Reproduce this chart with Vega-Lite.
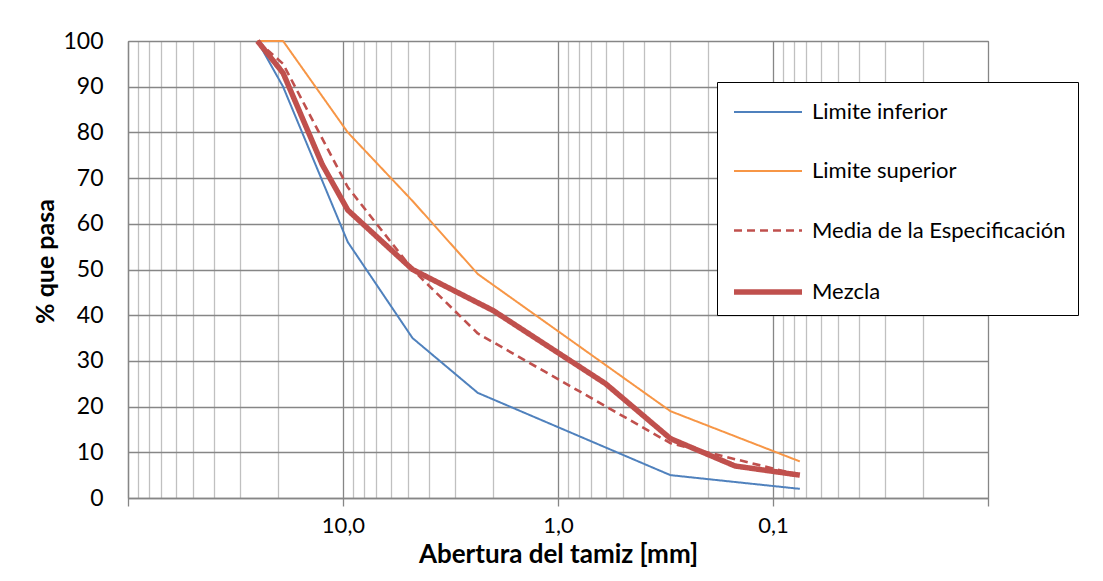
{
  "$schema": "https://vega.github.io/schema/vega-lite/v6.json",
  "width": 860,
  "height": 457,
  "autosize": {"type": "none"},
  "padding": {"left": 128, "top": 41, "right": 115, "bottom": 83},
  "background": "white",
  "config": {
    "font": "Lato",
    "view": {"stroke": "#868686", "strokeWidth": 1},
    "legend": {
      "symbolType": "M-2,0H2",
      "symbolSize": 1156,
      "symbolOffset": 19,
      "labelOffset": 24,
      "rowPadding": 30,
      "padding": 12,
      "strokeColor": "black",
      "fillColor": "white",
      "labelFont": "Lato",
      "labelFontSize": 22,
      "labelColor": "black",
      "labelLimit": 500
    }
  },
  "data": {
    "values": [
      {"tamiz": 25, "pasa": 100, "serie": "Limite inferior"},
      {"tamiz": 19, "pasa": 90, "serie": "Limite inferior"},
      {"tamiz": 9.5, "pasa": 56, "serie": "Limite inferior"},
      {"tamiz": 4.75, "pasa": 35, "serie": "Limite inferior"},
      {"tamiz": 2.36, "pasa": 23, "serie": "Limite inferior"},
      {"tamiz": 0.3, "pasa": 5, "serie": "Limite inferior"},
      {"tamiz": 0.075, "pasa": 2, "serie": "Limite inferior"},
      {"tamiz": 25, "pasa": 100, "serie": "Limite superior"},
      {"tamiz": 19, "pasa": 100, "serie": "Limite superior"},
      {"tamiz": 9.5, "pasa": 80, "serie": "Limite superior"},
      {"tamiz": 4.75, "pasa": 65, "serie": "Limite superior"},
      {"tamiz": 2.36, "pasa": 49, "serie": "Limite superior"},
      {"tamiz": 0.3, "pasa": 19, "serie": "Limite superior"},
      {"tamiz": 0.075, "pasa": 8, "serie": "Limite superior"},
      {"tamiz": 25, "pasa": 100, "serie": "Media de la Especificación"},
      {"tamiz": 19, "pasa": 95, "serie": "Media de la Especificación"},
      {"tamiz": 9.5, "pasa": 68, "serie": "Media de la Especificación"},
      {"tamiz": 4.75, "pasa": 50, "serie": "Media de la Especificación"},
      {"tamiz": 2.36, "pasa": 36, "serie": "Media de la Especificación"},
      {"tamiz": 0.3, "pasa": 12, "serie": "Media de la Especificación"},
      {"tamiz": 0.075, "pasa": 5, "serie": "Media de la Especificación"},
      {"tamiz": 25, "pasa": 100, "serie": "Mezcla"},
      {"tamiz": 19, "pasa": 93, "serie": "Mezcla"},
      {"tamiz": 12.5, "pasa": 73, "serie": "Mezcla"},
      {"tamiz": 9.5, "pasa": 63, "serie": "Mezcla"},
      {"tamiz": 4.75, "pasa": 50, "serie": "Mezcla"},
      {"tamiz": 2.0, "pasa": 41, "serie": "Mezcla"},
      {"tamiz": 0.6, "pasa": 25, "serie": "Mezcla"},
      {"tamiz": 0.3, "pasa": 13, "serie": "Mezcla"},
      {"tamiz": 0.15, "pasa": 7, "serie": "Mezcla"},
      {"tamiz": 0.075, "pasa": 5, "serie": "Mezcla"}
    ]
  },
  "mark": {"type": "line", "strokeJoin": "round"},
  "encoding": {
    "x": {
      "field": "tamiz",
      "type": "quantitative",
      "scale": {"type": "log", "domain": [0.01, 100], "reverse": true, "nice": false},
      "axis": {
        "values": [100, 90, 80, 70, 60, 50, 40, 30, 20, 10, 9, 8, 7, 6, 5, 4, 3, 2, 1, 0.9, 0.8, 0.7, 0.6, 0.5, 0.4, 0.3, 0.2, 0.1, 0.09, 0.08, 0.07, 0.06, 0.05, 0.04, 0.03, 0.02, 0.01],
        "title": "Abertura del tamiz [mm]",
        "titleFont": "Lato",
        "titleFontSize": 26,
        "titleFontWeight": "bold",
        "titleColor": "black",
        "titleY": 43,
        "titleBaseline": "top",
        "labelExpr": "(datum.value > 0.05 && datum.value < 50 && abs(log(datum.value)/LN10 - round(log(datum.value)/LN10)) < 0.001) ? replace(format(datum.value, '.1f'), '.', ',') : ''",
        "labelFont": "Lato",
        "labelFontSize": 22,
        "labelColor": "black",
        "labelPadding": 9,
        "labelOverlap": false,
        "labelFlush": false,
        "grid": true,
        "gridColor": {"condition": {"test": "abs(log(datum.value)/LN10 - round(log(datum.value)/LN10)) < 0.001", "value": "#868686"}, "value": "#c0c0c0"},
        "gridWidth": 1.3,
        "tickSize": 8,
        "tickColor": {"condition": {"test": "abs(log(datum.value)/LN10 - round(log(datum.value)/LN10)) < 0.001", "value": "#868686"}, "value": "transparent"},
        "tickWidth": 1.3,
        "domainColor": "#868686",
        "domainWidth": 1.3
      }
    },
    "y": {
      "field": "pasa",
      "type": "quantitative",
      "scale": {"domain": [0, 100], "nice": false},
      "axis": {
        "values": [0, 10, 20, 30, 40, 50, 60, 70, 80, 90, 100],
        "title": "% que pasa",
        "titleFont": "Lato",
        "titleFontSize": 25,
        "titleFontWeight": "bold",
        "titleColor": "black",
        "titleX": -70,
        "titleY": 220,
        "titleAngle": 270,
        "titleAlign": "center",
        "titleBaseline": "bottom",
        "grid": true,
        "gridColor": "#868686",
        "gridWidth": 1.3,
        "ticks": false,
        "labelFont": "Lato",
        "labelFontSize": 23,
        "labelColor": "black",
        "labelPadding": 25,
        "domainColor": "#868686",
        "domainWidth": 1.3
      }
    },
    "color": {
      "field": "serie",
      "type": "nominal",
      "scale": {
        "domain": ["Limite inferior", "Limite superior", "Media de la Especificación", "Mezcla"],
        "range": ["#4F81BD", "#F79646", "#C0504D", "#C0504D"]
      },
      "legend": {"orient": "none", "legendX": 589, "legendY": 41, "title": null}
    },
    "strokeDash": {
      "field": "serie",
      "type": "nominal",
      "scale": {
        "domain": ["Limite inferior", "Limite superior", "Media de la Especificación", "Mezcla"],
        "range": [[1, 0], [1, 0], [8, 5], [1, 0]]
      },
      "legend": {"orient": "none", "legendX": 589, "legendY": 41, "title": null}
    },
    "strokeWidth": {
      "field": "serie",
      "type": "nominal",
      "scale": {
        "type": "ordinal",
        "domain": ["Limite inferior", "Limite superior", "Media de la Especificación", "Mezcla"],
        "range": [2, 2, 2.6, 5.5]
      },
      "legend": {"orient": "none", "legendX": 589, "legendY": 41, "title": null}
    }
  }
}
